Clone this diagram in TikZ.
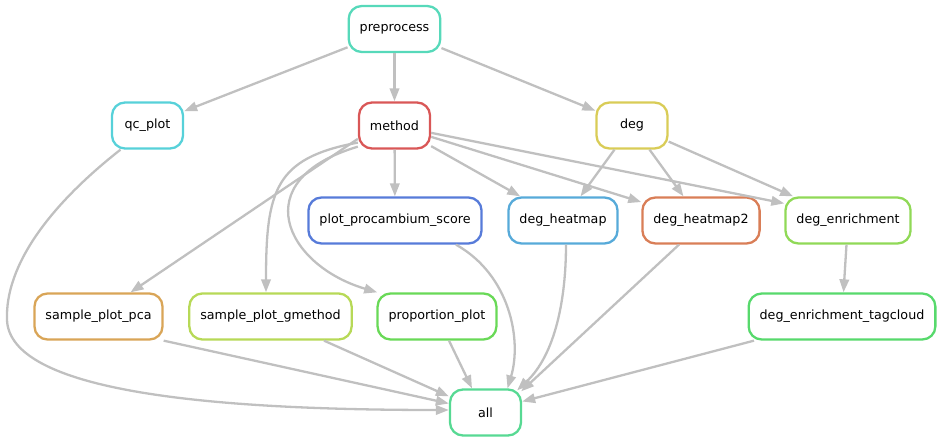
\documentclass[tikz,border=0pt]{standalone}
\usepackage{fontspec}
\setmainfont{DejaVu Sans}
\usetikzlibrary{arrows.meta}
\definecolor{edgegrey}{HTML}{C0C0C0}
\definecolor{cmethod}{HTML}{D95757}
\definecolor{cheattwo}{HTML}{D97E57}
\definecolor{cpca}{HTML}{D9A557}
\definecolor{cdeg}{HTML}{D9CC57}
\definecolor{cgmethod}{HTML}{B7D957}
\definecolor{cenrich}{HTML}{90D957}
\definecolor{cprop}{HTML}{69D957}
\definecolor{ctag}{HTML}{57D96C}
\definecolor{call}{HTML}{57D993}
\definecolor{cpre}{HTML}{57D9BA}
\definecolor{cqc}{HTML}{57D1D9}
\definecolor{cheat}{HTML}{57AAD9}
\definecolor{cpps}{HTML}{577BD9}

\begin{document}
\begin{tikzpicture}[x=1pt, y=-1pt,
  rulebox/.style={draw=#1, line width=2.3pt, rounded corners=13pt, minimum width=71pt, minimum height=46pt, inner xsep=11pt, font=\fontsize{12.7}{15}\selectfont},
  dep/.style={draw=edgegrey, line width=2.3pt, -{Triangle[length=13pt, width=9.5pt]}}]
  \useasboundingbox (0,0) rectangle (940,443);

  \node (pre) [rulebox=cpre] at (394.5,29) {preprocess};
  \node (qc) [rulebox=cqc] at (147.5,125.5) {qc\_plot};
  \node (method) [rulebox=cmethod] at (394.5,125.5) {method};
  \node (deg) [rulebox=cdeg] at (632,125.5) {deg};
  \node (pps) [rulebox=cpps] at (395,220.5) {plot\_procambium\_score};
  \node (heat) [rulebox=cheat] at (563,220.5) {deg\_heatmap};
  \node (heattwo) [rulebox=cheattwo] at (701,220.5) {deg\_heatmap2};
  \node (enrich) [rulebox=cenrich] at (848,220.5) {deg\_enrichment};
  \node (pca) [rulebox=cpca] at (98.5,316.5) {sample\_plot\_pca};
  \node (gmethod) [rulebox=cgmethod] at (270.5,316.5) {sample\_plot\_gmethod};
  \node (prop) [rulebox=cprop] at (437,316.5) {proportion\_plot};
  \node (tag) [rulebox=ctag] at (842,316.5) {deg\_enrichment\_tagcloud};
  \node (all) [rulebox=call] at (485.5,412.5) {all};

  \draw[dep] (pre) -- (qc);
  \draw[dep] (pre) -- (method);
  \draw[dep] (pre) -- (deg);
  \draw[dep] (method) -- (pps);
  \draw[dep] (method) -- (heat);
  \draw[dep] (method) -- (heattwo);
  \draw[dep] (method) -- (enrich.165);
  \draw[dep] (method.200) -- ([xshift=32pt]pca.north);
  \draw[dep] (method.205) .. controls (275,158) and (266,190) .. ([xshift=-4.5pt]gmethod.north);
  \draw[dep] (method.210) .. controls (245,180) and (285,265) .. (prop.158);
  \draw[dep] (deg) -- (heat);
  \draw[dep] (deg) -- (heattwo);
  \draw[dep] (deg) -- (enrich);
  \draw[dep] (enrich) -- (tag);

  \draw[dep] ([xshift=-27pt]qc.south) .. controls (50,205) and (5,265) .. (7,320)
    .. controls (10,390) and (200,410) .. ([yshift=2.5pt]all.west);
  \draw[dep] (pca.south east) -- ([yshift=9pt]all.west);
  \draw[dep] ([xshift=53.5pt]gmethod.south) -- ([yshift=-8pt]all.north west);
  \draw[dep] ([xshift=12pt]prop.south) -- ([xshift=-13.5pt]all.north);
  \draw[dep] ([xshift=61pt]pps.south) .. controls (510,275) and (522,340) .. ([xshift=22pt]all.north);
  \draw[dep] ([xshift=3pt]heat.south) .. controls (566,300) and (555,355) .. ([xshift=-5pt,yshift=-2pt]all.north east);
  \draw[dep] ([xshift=-22pt]heattwo.south) -- ([xshift=-1pt,yshift=-3pt]all.north east);
  \draw[dep] ([xshift=-88pt]tag.south) -- ([yshift=11pt]all.east);
\end{tikzpicture}
\end{document}
